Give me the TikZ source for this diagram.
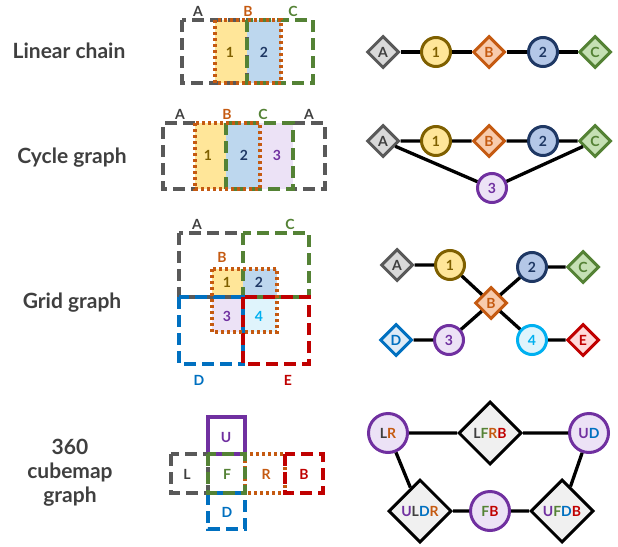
\documentclass[tikz,border=0pt]{standalone}
\usepackage{fontspec}
\setmainfont{Lato}
\usetikzlibrary{shapes.geometric}

\definecolor{cdark}{HTML}{3F3F3F}
\definecolor{cgray}{HTML}{595959}
\definecolor{cgrayf}{HTML}{D9D9D9}
\definecolor{cyel}{HTML}{7F6000}
\definecolor{cyelf}{HTML}{FFE699}
\definecolor{corg}{HTML}{C55A11}
\definecolor{corgf}{HTML}{F8CBAD}
\definecolor{cnavy}{HTML}{1F3864}
\definecolor{cnavyf}{HTML}{B4C7E7}
\definecolor{cpale}{HTML}{BDD7EE}
\definecolor{cgrn}{HTML}{548235}
\definecolor{cgrnf}{HTML}{C5E0B4}
\definecolor{cpur}{HTML}{7030A0}
\definecolor{cpurf}{HTML}{ECE2F6}
\definecolor{cblu}{HTML}{0070C0}
\definecolor{cbluf}{HTML}{DDEBF7}
\definecolor{ccyan}{HTML}{00B0F0}
\definecolor{ccyanf}{HTML}{DFF4FC}
\definecolor{cred}{HTML}{C00000}
\definecolor{credf}{HTML}{FFD9D9}
\definecolor{ccube}{HTML}{F0F0F0}

\newcommand{\faceL}{\textcolor{cdark}{L}}
\newcommand{\faceR}{\textcolor{corg}{R}}
\newcommand{\faceF}{\textcolor{cgrn}{F}}
\newcommand{\faceB}{\textcolor{cred}{B}}
\newcommand{\faceU}{\textcolor{cpur}{U}}
\newcommand{\faceD}{\textcolor{cblu}{D}}

\begin{document}
\begin{tikzpicture}[x=1pt, y=-1pt,
        title/.style={font=\bfseries\fontsize{21}{24}\selectfont, text=cdark, align=center},
        tag/.style={font=\bfseries\fontsize{14}{16}\selectfont, inner sep=0pt},
        frame/.style={line width=3.2pt},
        dashbox/.style={frame, dash pattern=on 12pt off 6pt},
        dotbox/.style={frame, dash pattern=on 3pt off 3pt},
        vtx/.style={circle, draw, line width=3pt, minimum size=29pt, inner sep=0pt, font=\bfseries\fontsize{14}{16}\selectfont},
        cut/.style={diamond, draw, line width=3pt, minimum size=32pt, inner sep=0pt, font=\bfseries\fontsize{14}{16}\selectfont},
        pA/.style={draw=cgray, fill=cgrayf, text=cdark},
        pB/.style={draw=corg, fill=corgf, text=corg},
        pC/.style={draw=cgrn, fill=cgrnf, text=cgrn},
        pD/.style={draw=cblu, fill=cbluf, text=cblu},
        pE/.style={draw=cred, fill=credf, text=cred},
        p1/.style={draw=cyel, fill=cyelf, text=cyel},
        p2/.style={draw=cnavy, fill=cnavyf, text=cnavy},
        p3/.style={draw=cpur, fill=cpurf, text=cpur},
        p4/.style={draw=ccyan, fill=ccyanf, text=ccyan},
        face/.style={circle, draw=cpur, fill=cpurf, line width=3pt, minimum size=39pt, inner sep=0pt, font=\bfseries\fontsize{14}{16}\selectfont},
        pair/.style={diamond, draw=black, fill=ccube, line width=3pt, minimum size=63pt, inner sep=0pt, font=\bfseries\fontsize{14}{16}\selectfont},
        link/.style={line width=3.3pt, black}
    ]
    \useasboundingbox (0,0) rectangle (618,546);

    \node[title] (tlin) at (69,51) {Linear chain};
    \node[title] (tcyc) at (72,158) {Cycle graph};
    \node[title] (tgrid) at (72,303) {Grid graph};
    \node[title] (tcube) at (70,473) {360\\cubemap\\graph};

    \fill[cyelf] (215,20) rectangle (247,83);
    \fill[cpale] (247,20) rectangle (281,83);
    \draw[dashbox, cgray] (182,20) rectangle (247,83);
    \draw[dashbox, cgrn] (247,20) rectangle (313,83);
    \draw[dotbox, corg] (215,20) rectangle (281,83);
    \node[tag, text=cyel] (lin1) at (230,52) {1};
    \node[tag, text=cnavy] (lin2) at (264,52) {2};
    \node[tag, text=cdark] (linA) at (198,11) {A};
    \node[tag, text=corg] (linB) at (248,11) {B};
    \node[tag, text=cgrn] (linC) at (293,11) {C};

    \fill[cyelf] (195,123) rectangle (226,189);
    \fill[cpale] (226,123) rectangle (260,189);
    \fill[cpurf] (260,123) rectangle (293,189);
    \draw[dashbox, cgray] (195,123) -- (163,123) -- (163,189) -- (195,189);
    \draw[dashbox, cgray] (293,123) -- (325,123) -- (325,189) -- (293,189);
    \draw[dashbox, cgrn] (226,123) rectangle (293,189);
    \draw[dotbox, corg] (195,123) rectangle (260,189);
    \node[tag, text=cyel] (cyc1) at (208,155) {1};
    \node[tag, text=cnavy] (cyc2) at (244,155) {2};
    \node[tag, text=cpur] (cyc3) at (277,155) {3};
    \node[tag, text=cdark] (cycA) at (180,114) {A};
    \node[tag, text=corg] (cycB) at (227,114) {B};
    \node[tag, text=cgrn] (cycC) at (263,114) {C};
    \node[tag, text=cdark] (cycA2) at (309,114) {A};

    \fill[cyelf] (212,269) rectangle (243,297);
    \fill[cpale] (243,269) rectangle (277,297);
    \fill[cpurf] (212,297) rectangle (243,332);
    \fill[ccyanf] (243,297) rectangle (277,332);
    \draw[dashbox, cgray] (179,233) rectangle (243,297);
    \draw[dashbox, cgrn] (243,233) rectangle (309,297);
    \draw[dashbox, cblu] (179,297) rectangle (243,364);
    \draw[dashbox, cred] (243,297) rectangle (309,364);
    \draw[dotbox, corg] (212,269) rectangle (277,332);
    \node[tag, text=cyel] (grid1) at (227,282) {1};
    \node[tag, text=cnavy] (grid2) at (259,282) {2};
    \node[tag, text=cpur] (grid3) at (227,316) {3};
    \node[tag, text=ccyan] (grid4) at (259,316) {4};
    \node[tag, text=cdark] (gridA) at (197,224) {A};
    \node[tag, text=corg] (gridB) at (222,257) {B};
    \node[tag, text=cgrn] (gridC) at (290,224) {C};
    \node[tag, text=cblu] (gridD) at (199,380) {D};
    \node[tag, text=cred] (gridE) at (288,380) {E};

    \draw[frame, cpur] (208,417) rectangle (245,454);
    \draw[dashbox, cgray] (171,454) rectangle (208,493);
    \draw[dashbox, cblu] (208,493) rectangle (245,529);
    \draw[dotbox, corg] (245,454) rectangle (285,493);
    \draw[dashbox, cred] (285,454) rectangle (323,493);
    \draw[dashbox, cgrn] (208,454) rectangle (245,493);
    \node[tag] (netU) at (226,437) {\faceU};
    \node[tag] (netL) at (187,474) {\faceL};
    \node[tag] (netF) at (227,474) {\faceF};
    \node[tag] (netR) at (266,474) {\faceR};
    \node[tag] (netB) at (304,474) {\faceB};
    \node[tag] (netD) at (227,512) {\faceD};

    \node[cut, pA] (la) at (383,52) {A};
    \node[vtx, p1] (l1) at (436,52) {1};
    \node[cut, pB] (lb) at (489,52) {B};
    \node[vtx, p2] (l2) at (543,52) {2};
    \node[cut, pC] (lc) at (595,52) {C};
    \draw[link] (la) -- (l1) -- (lb) -- (l2) -- (lc);

    \node[cut, pA] (ca) at (383,141) {A};
    \node[vtx, p1] (c1) at (436,141) {1};
    \node[cut, pB] (cb) at (489,141) {B};
    \node[vtx, p2] (c2) at (543,141) {2};
    \node[cut, pC] (cc) at (595,141) {C};
    \node[vtx, p3] (c3) at (492,188) {3};
    \draw[link] (ca) -- (c1) -- (cb) -- (c2) -- (cc) -- (c3) -- (ca);

    \node[cut, pA] (ga) at (397,265) {A};
    \node[vtx, p1] (g1) at (450,265) {1};
    \node[vtx, p2] (g2) at (532,267) {2};
    \node[cut, pC] (gc) at (583,267) {C};
    \node[cut, pB] (gb) at (491,303) {B};
    \node[cut, pD] (gd) at (396,340) {D};
    \node[vtx, p3] (g3) at (449,340) {3};
    \node[vtx, p4] (g4) at (532,340) {4};
    \node[cut, pE] (ge) at (583,340) {E};
    \draw[link] (ga) -- (g1) -- (gb) -- (g2) -- (gc);
    \draw[link] (gd) -- (g3) -- (gb) -- (g4) -- (ge);

    \node[face] (lr) at (388,433) {\faceL\faceR};
    \node[pair] (lfrb) at (490,433) {\faceL\faceF\faceR\faceB};
    \node[face] (ud) at (589,433) {\faceU\faceD};
    \node[pair] (uldr) at (420,511) {\faceU\faceL\faceD\faceR};
    \node[face] (fb) at (490,511) {\faceF\faceB};
    \node[pair] (ufdb) at (562,511) {\faceU\faceF\faceD\faceB};
    \draw[link] (lr) -- (lfrb) -- (ud) -- (ufdb) -- (fb) -- (uldr) -- (lr);
\end{tikzpicture}
\end{document}
